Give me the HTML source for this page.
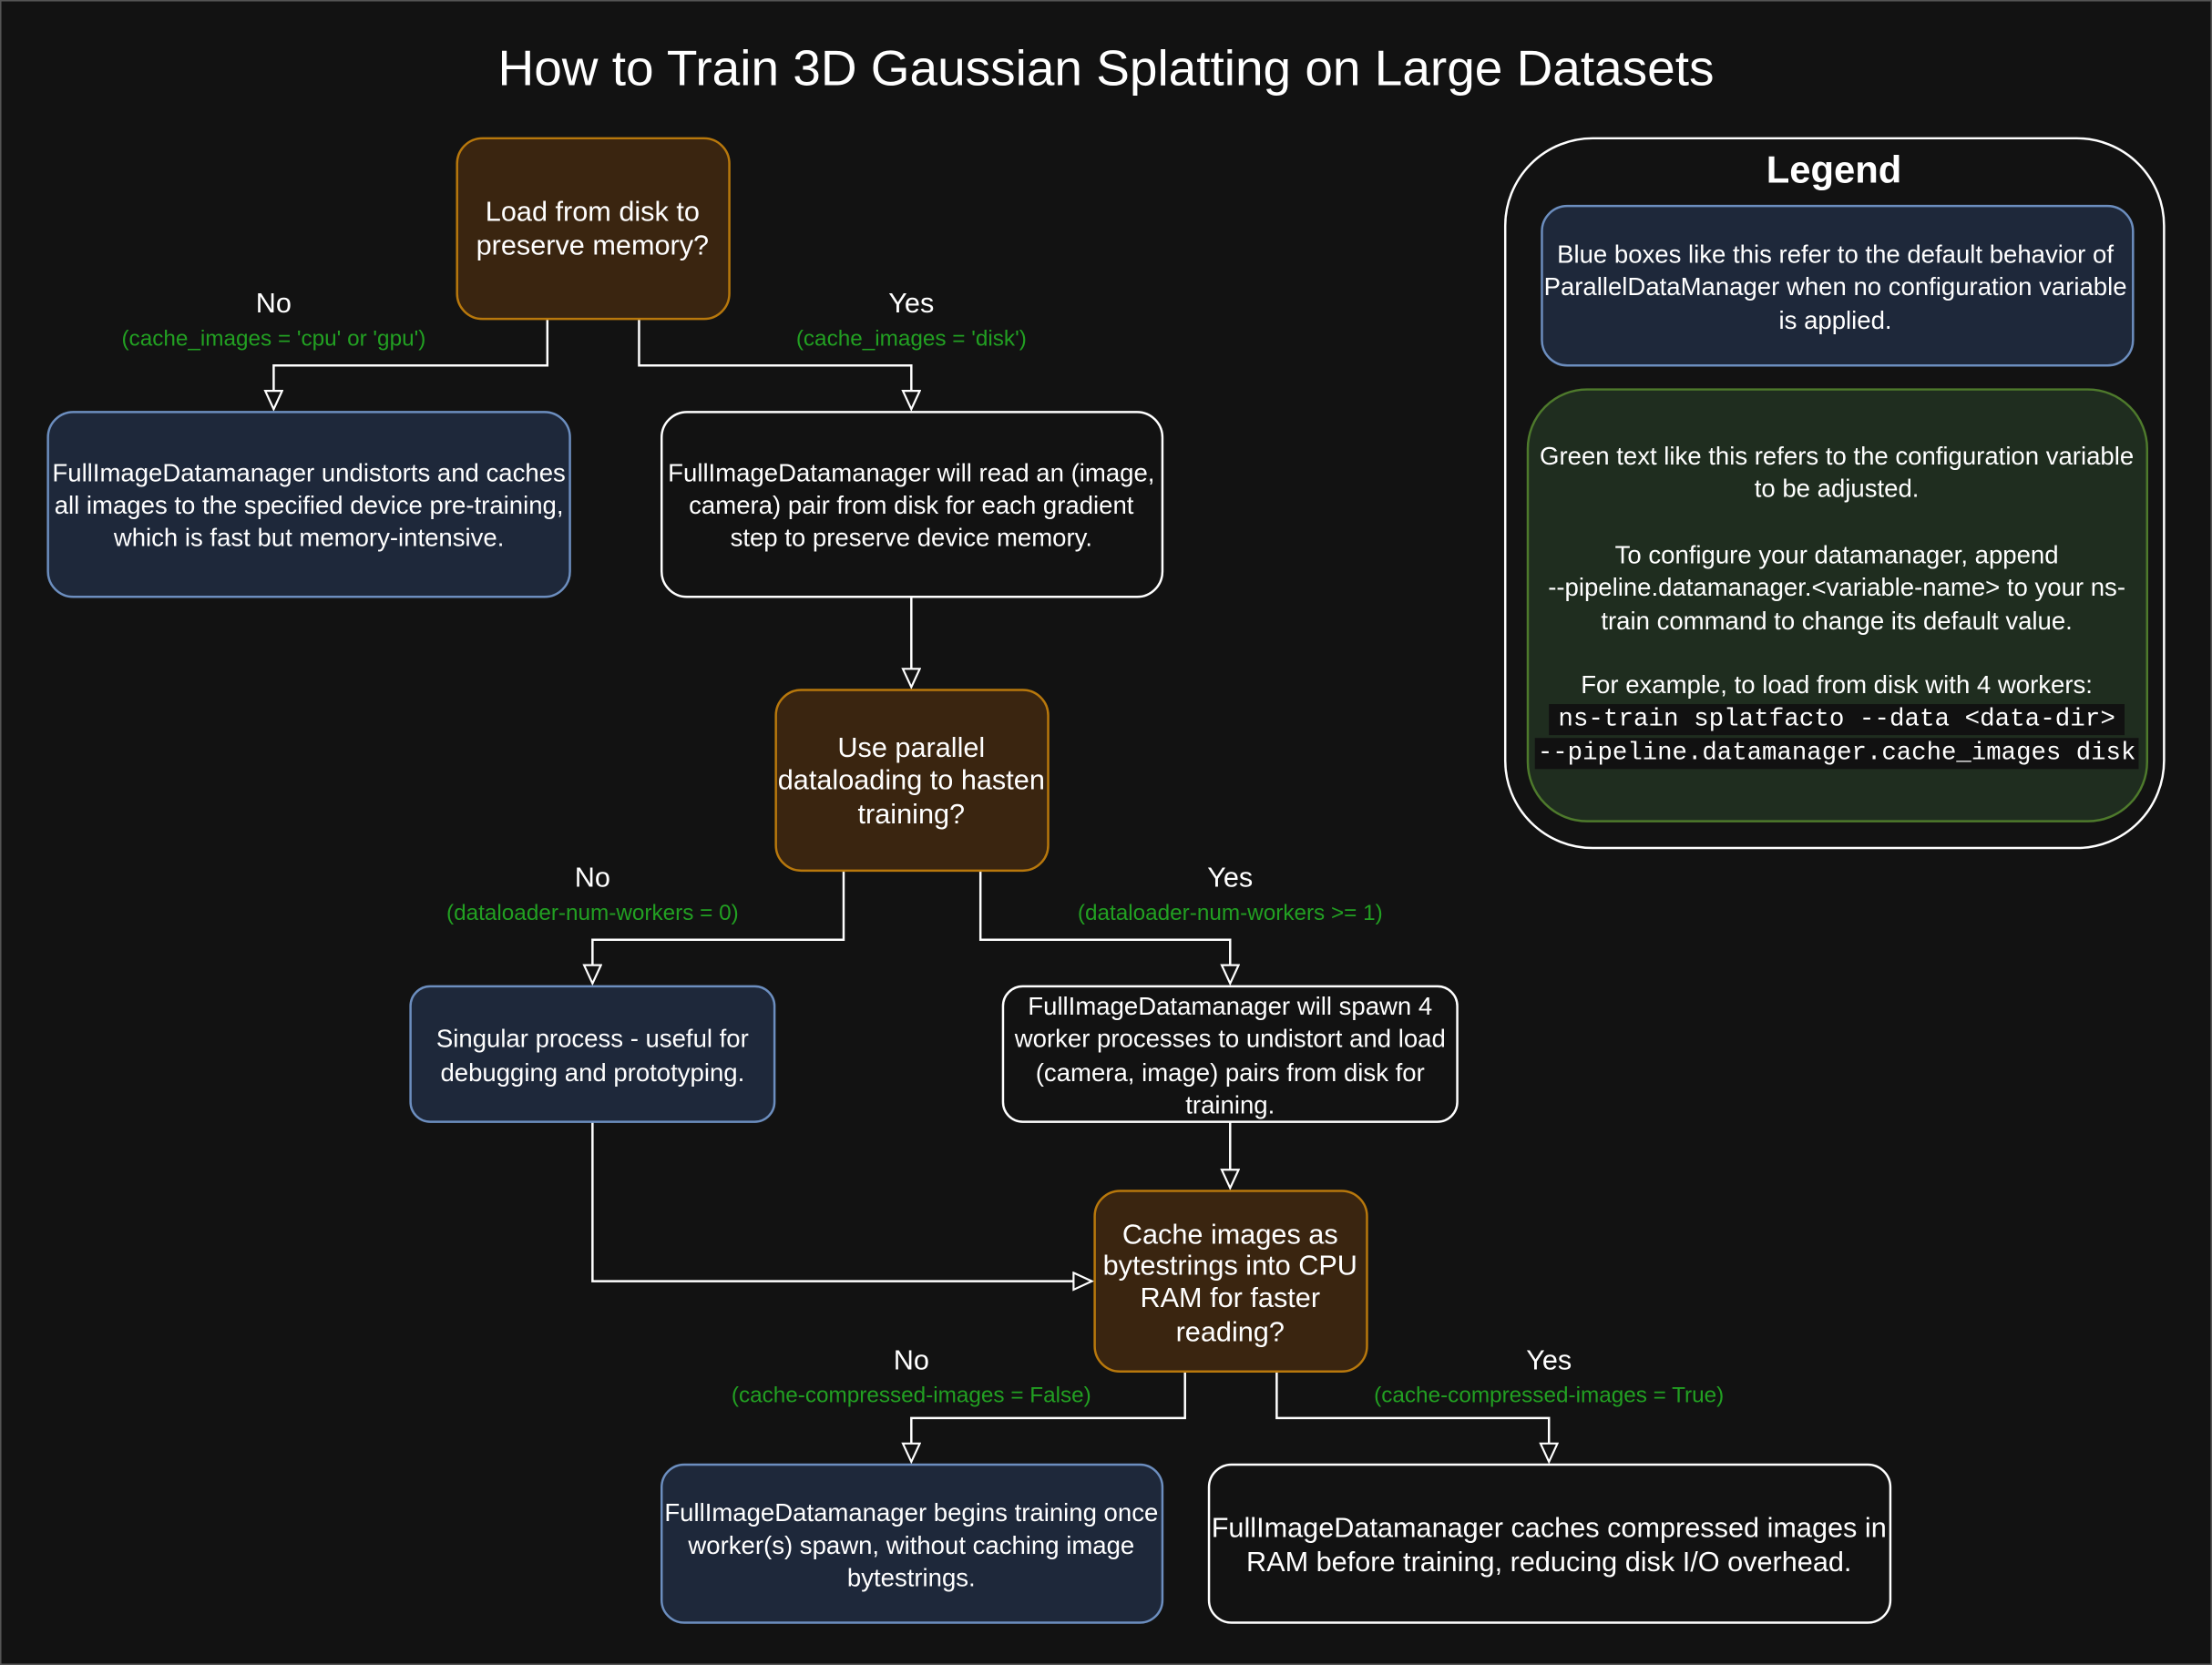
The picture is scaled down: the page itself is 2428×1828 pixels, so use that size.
<!DOCTYPE html>
<html><head><meta charset="utf-8"><style>
html,body{margin:0;padding:0;background:#121212;}
svg{display:block;}
text{font-family:"Liberation Sans",sans-serif;fill:#fff;text-anchor:middle;dominant-baseline:central;}
.g{fill:#22a022;font-size:15.7px;}
.l{font-size:19.8px;}
.t{font-size:17.8px;}
.m{font-family:"Liberation Mono",monospace;font-size:17.8px;}
</style></head><body>
<svg width="2428" height="1828" viewBox="0 0 1568 1180" preserveAspectRatio="none" xmlns="http://www.w3.org/2000/svg">
<defs>
<marker id="a" markerWidth="16" markerHeight="16" refX="14" refY="7" orient="auto" markerUnits="userSpaceOnUse">
<path d="M1,1 L14,7 L1,13 Z" fill="#121212" stroke="#fff" stroke-width="1.4"/>
</marker>
</defs>
<rect x="0.5" y="0.5" width="1567" height="1179" fill="#121212" stroke="#555" stroke-width="1"/>
<text x="784" y="48" style="font-size:35.5px">How to Train 3D Gaussian Splatting on Large Datasets</text>

<g fill="none" stroke="#fff" stroke-width="1.6">
<polyline points="388,226 388,259 194,259 194,290" marker-end="url(#a)"/>
<polyline points="453,226 453,259 646,259 646,290" marker-end="url(#a)"/>
<polyline points="646,423 646,487" marker-end="url(#a)"/>
<polyline points="598,617 598,666 420,666 420,697" marker-end="url(#a)"/>
<polyline points="695,617 695,666 872,666 872,697" marker-end="url(#a)"/>
<polyline points="872,795 872,842" marker-end="url(#a)"/>
<polyline points="420,795 420,908 774,908" marker-end="url(#a)"/>
<polyline points="840,972 840,1005 646,1005 646,1036" marker-end="url(#a)"/>
<polyline points="905,972 905,1005 1098,1005 1098,1036" marker-end="url(#a)"/>
</g>

<rect x="324" y="98" width="193" height="128" rx="18" fill="#3a2510" stroke="#b8780c" stroke-width="1.6"/>
<text class="l" x="420" y="150">Load from disk to</text>
<text class="l" x="420" y="174">preserve memory?</text>
<text class="l" x="194" y="215">No</text>
<text class="g" x="194" y="240">(cache_images = 'cpu' or 'gpu')</text>
<text class="l" x="646" y="215">Yes</text>
<text class="g" x="646" y="240">(cache_images = 'disk')</text>

<rect x="34" y="292" width="370" height="131" rx="18" fill="#1e283a" stroke="#6c8ebf" stroke-width="1.6"/>
<text class="t" x="219" y="335">FullImageDatamanager undistorts and caches</text>
<text class="t" x="219" y="358">all images to the specified device pre-training,</text>
<text class="t" x="219" y="381">which is fast but memory-intensive.</text>

<rect x="469" y="292" width="355" height="131" rx="18" fill="#121212" stroke="#fff" stroke-width="1.6"/>
<text class="t" x="646" y="335">FullImageDatamanager will read an (image,</text>
<text class="t" x="646" y="358">camera) pair from disk for each gradient</text>
<text class="t" x="646" y="381">step to preserve device memory.</text>

<rect x="550" y="489" width="193" height="128" rx="18" fill="#3a2510" stroke="#b8780c" stroke-width="1.6"/>
<text class="l" x="646" y="530">Use parallel</text>
<text class="l" x="646" y="553">dataloading to hasten</text>
<text class="l" x="646" y="577">training?</text>
<text class="l" x="420" y="622">No</text>
<text class="g" x="420" y="647">(dataloader-num-workers = 0)</text>
<text class="l" x="872" y="622">Yes</text>
<text class="g" x="872" y="647">(dataloader-num-workers &gt;= 1)</text>

<rect x="291" y="699" width="258" height="96" rx="14" fill="#1e283a" stroke="#6c8ebf" stroke-width="1.6"/>
<text class="t" x="420" y="736">Singular process - useful for</text>
<text class="t" x="420" y="760">debugging and prototyping.</text>

<rect x="711" y="699" width="322" height="96" rx="14" fill="#121212" stroke="#fff" stroke-width="1.6"/>
<text class="t" x="872" y="713">FullImageDatamanager will spawn 4</text>
<text class="t" x="872" y="736">worker processes to undistort and load</text>
<text class="t" x="872" y="760">(camera, image) pairs from disk for</text>
<text class="t" x="872" y="783">training.</text>

<rect x="776" y="844" width="193" height="128" rx="18" fill="#3a2510" stroke="#b8780c" stroke-width="1.6"/>
<text class="l" x="872" y="875">Cache images as</text>
<text class="l" x="872" y="897">bytestrings into CPU</text>
<text class="l" x="872" y="920">RAM for faster</text>
<text class="l" x="872" y="944">reading?</text>
<text class="l" x="646" y="964">No</text>
<text class="g" x="646" y="989">(cache-compressed-images = False)</text>
<text class="l" x="1098" y="964">Yes</text>
<text class="g" x="1098" y="989">(cache-compressed-images = True)</text>

<rect x="469" y="1038" width="355" height="112" rx="16" fill="#1e283a" stroke="#6c8ebf" stroke-width="1.6"/>
<text class="t" x="646" y="1072">FullImageDatamanager begins training once</text>
<text class="t" x="646" y="1095">worker(s) spawn, without caching image</text>
<text class="t" x="646" y="1118">bytestrings.</text>

<rect x="857" y="1038" width="483" height="112" rx="16" fill="#121212" stroke="#fff" stroke-width="1.6"/>
<text class="l" x="1098" y="1083">FullImageDatamanager caches compressed images in</text>
<text class="l" x="1098" y="1107">RAM before training, reducing disk I/O overhead.</text>

<rect x="1067" y="98" width="467" height="503" rx="62" fill="#121212" stroke="#fff" stroke-width="1.6"/>
<text x="1300" y="120" style="font-size:27px;font-weight:bold">Legend</text>
<rect x="1093" y="146" width="419" height="113" rx="18" fill="#1e283a" stroke="#6c8ebf" stroke-width="1.6"/>
<text class="t" x="1301" y="180">Blue boxes like this refer to the default behavior of</text>
<text class="t" x="1301" y="203">ParallelDataManager when no configuration variable</text>
<text class="t" x="1301" y="227">is applied.</text>
<rect x="1083" y="276" width="439" height="306" rx="42" fill="#1f2d1f" stroke="#4e7a2c" stroke-width="1.6"/>
<text class="t" x="1302" y="323">Green text like this refers to the configuration variable</text>
<text class="t" x="1302" y="346">to be adjusted.</text>
<text class="t" x="1302" y="393">To configure your datamanager, append</text>
<text class="t" x="1302" y="416">--pipeline.datamanager.&lt;variable-name&gt; to your ns-</text>
<text class="t" x="1302" y="440">train command to change its default value.</text>
<text class="t" x="1302" y="485">For example, to load from disk with 4 workers:</text>
<rect x="1098" y="499" width="408" height="22" fill="#111"/>
<rect x="1088" y="523" width="428" height="22" fill="#111"/>
<text class="m" x="1302" y="510">ns-train splatfacto --data &lt;data-dir&gt;</text>
<text class="m" x="1302" y="534" textLength="424" lengthAdjust="spacingAndGlyphs">--pipeline.datamanager.cache_images disk</text>
</svg>
</body></html>
